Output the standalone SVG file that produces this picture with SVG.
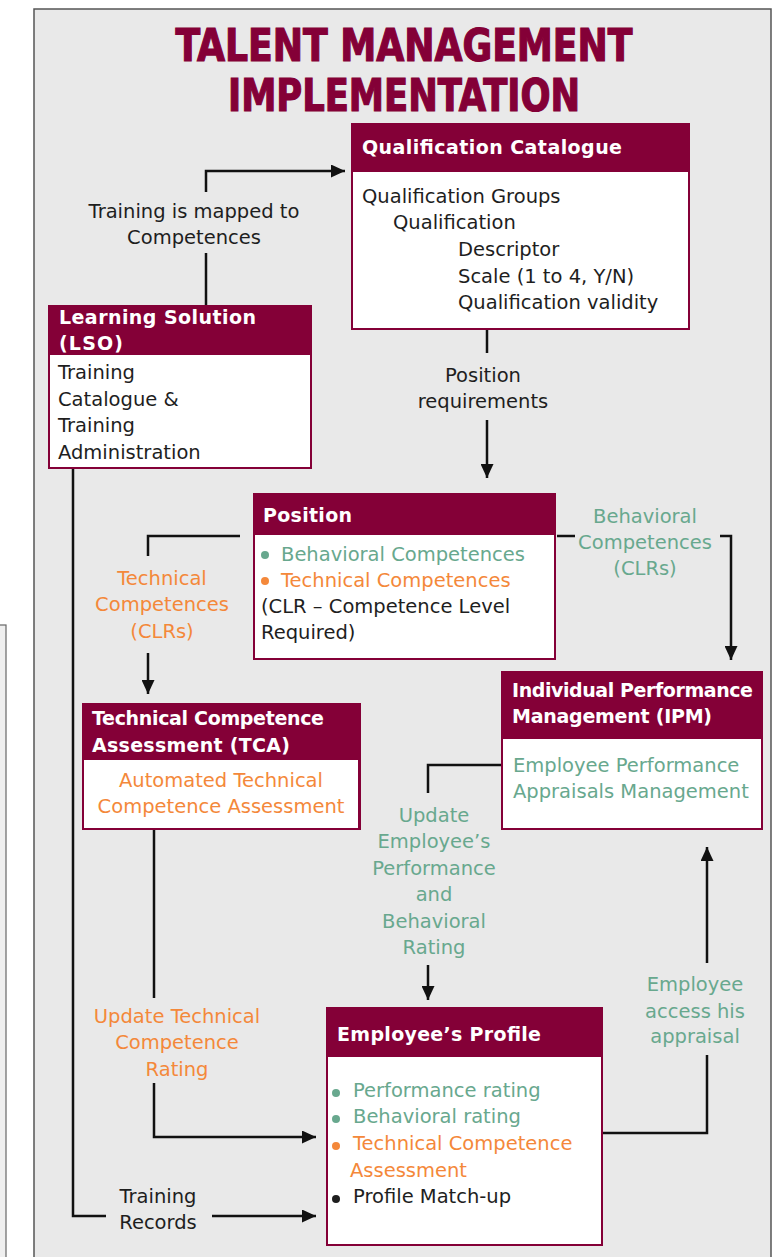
<svg xmlns="http://www.w3.org/2000/svg" width="782" height="1257" viewBox="0 0 782 1257">
<defs>
<marker id="arr" markerUnits="userSpaceOnUse" markerWidth="15" markerHeight="13" refX="14" refY="6.5" orient="auto">
<path d="M0,0 L14,6.5 L0,13 z" fill="#111"/>
</marker>
<style>
.box{fill:#840037}
.body{fill:#fff}
.hd{font-family:"DejaVu Sans",sans-serif;font-weight:bold;font-size:19px;fill:#fff}
.t{font-family:"DejaVu Sans",sans-serif;font-size:19.5px;fill:#1e1e1e}
.g{fill:#68a88e}
.o{fill:#f4883a}
.k{fill:#1e1e1e}
.c{text-anchor:middle}
.ln{fill:none;stroke:#111;stroke-width:2.5}
.title{font-family:"DejaVu Sans Condensed","DejaVu Sans",sans-serif;font-stretch:condensed;font-weight:bold;font-size:45px;fill:#840037;stroke:#840037;stroke-width:1.2;text-anchor:middle}
</style>
</defs>
<rect x="-2" y="625" width="8" height="640" fill="#efefef" stroke="#666" stroke-width="1.2"/>
<rect x="34" y="9" width="737" height="1262" fill="#e9e9e9" stroke="#555" stroke-width="1.5"/>
<text class="title" x="404" y="61" textLength="457" lengthAdjust="spacingAndGlyphs">TALENT MANAGEMENT</text>
<text class="title" x="404" y="111" textLength="352" lengthAdjust="spacingAndGlyphs">IMPLEMENTATION</text>

<g id="connectors">
<path class="ln" d="M206,305 V253"/>
<path class="ln" d="M206,192 V171 H345" marker-end="url(#arr)"/>
<text class="t c k" x="194" y="218">Training is mapped to</text>
<text class="t c k" x="194" y="244">Competences</text>

<path class="ln" d="M487,330 V353"/>
<path class="ln" d="M487,420 V478" marker-end="url(#arr)"/>
<text class="t c k" x="483" y="382">Position</text>
<text class="t c k" x="483" y="408">requirements</text>

<path class="ln" d="M557,536 H575"/>
<path class="ln" d="M720,536 H731 V660" marker-end="url(#arr)"/>
<text class="t c g" x="645" y="523">Behavioral</text>
<text class="t c g" x="645" y="549">Competences</text>
<text class="t c g" x="645" y="575">(CLRs)</text>

<path class="ln" d="M240,536 H148 V556"/>
<path class="ln" d="M148,653 V694" marker-end="url(#arr)"/>
<text class="t c o" x="162" y="585">Technical</text>
<text class="t c o" x="162" y="611">Competences</text>
<text class="t c o" x="162" y="638">(CLRs)</text>

<path class="ln" d="M501,765 H428 V793"/>
<path class="ln" d="M428,965 V1000" marker-end="url(#arr)"/>
<text class="t c g" x="434" y="822">Update</text>
<text class="t c g" x="434" y="848">Employee’s</text>
<text class="t c g" x="434" y="875">Performance</text>
<text class="t c g" x="434" y="901">and</text>
<text class="t c g" x="434" y="928">Behavioral</text>
<text class="t c g" x="434" y="954">Rating</text>

<path class="ln" d="M603,1133 H707 V1055"/>
<path class="ln" d="M707,963 V847" marker-end="url(#arr)"/>
<text class="t c g" x="695" y="991">Employee</text>
<text class="t c g" x="695" y="1018">access his</text>
<text class="t c g" x="695" y="1043">appraisal</text>

<path class="ln" d="M154,830 V998"/>
<path class="ln" d="M154,1083 V1137 H316" marker-end="url(#arr)"/>
<text class="t c o" x="177" y="1023">Update Technical</text>
<text class="t c o" x="177" y="1049">Competence</text>
<text class="t c o" x="177" y="1076">Rating</text>

<path class="ln" d="M73,469 V1216 H106"/>
<path class="ln" d="M212,1216 H316" marker-end="url(#arr)"/>
<text class="t c k" x="158" y="1203">Training</text>
<text class="t c k" x="158" y="1229">Records</text>
</g>

<g id="qualification-catalogue">
<rect class="box" x="351" y="123" width="339" height="207"/>
<rect class="body" x="353" y="172" width="335" height="156"/>
<text class="hd" x="362" y="154" textLength="260">Qualification Catalogue</text>
<text class="t" x="362" y="203">Qualification Groups</text>
<text class="t" x="393" y="229">Qualification</text>
<text class="t" x="458" y="256">Descriptor</text>
<text class="t" x="458" y="283">Scale (1 to 4, Y/N)</text>
<text class="t" x="458" y="309">Qualification validity</text>
</g>

<g id="learning-solution">
<rect class="box" x="48" y="305" width="264" height="164"/>
<rect class="body" x="50" y="355" width="260" height="112"/>
<text class="hd" x="59" y="324" textLength="197">Learning Solution</text>
<text class="hd" x="59" y="350" textLength="64">(LSO)</text>
<text class="t" x="58" y="379">Training</text>
<text class="t" x="58" y="406">Catalogue &amp;</text>
<text class="t" x="58" y="432">Training</text>
<text class="t" x="58" y="459">Administration</text>
</g>

<g id="position">
<rect class="box" x="253" y="493" width="303" height="167"/>
<rect class="body" x="255" y="535" width="299" height="123"/>
<text class="hd" x="263" y="522" textLength="89">Position</text>
<circle cx="265" cy="555" r="4" class="g"/>
<text class="t g" x="281" y="561">Behavioral Competences</text>
<circle cx="265" cy="581" r="4" class="o"/>
<text class="t o" x="281" y="587">Technical Competences</text>
<text class="t" x="261" y="613">(CLR – Competence Level</text>
<text class="t" x="261" y="639">Required)</text>
</g>

<g id="tca">
<rect class="box" x="82" y="703" width="279" height="127"/>
<rect class="body" x="84" y="760" width="274" height="68"/>
<text class="hd" x="92" y="725" textLength="232">Technical Competence</text>
<text class="hd" x="92" y="752" textLength="198">Assessment (TCA)</text>
<text class="t c o" x="221" y="787">Automated Technical</text>
<text class="t c o" x="221" y="813">Competence Assessment</text>
</g>

<g id="ipm">
<rect class="box" x="501" y="671" width="262" height="159"/>
<rect class="body" x="503" y="739" width="258" height="89"/>
<text class="hd" x="512" y="697" textLength="241">Individual Performance</text>
<text class="hd" x="512" y="723" textLength="200">Management (IPM)</text>
<text class="t g" x="513" y="772">Employee Performance</text>
<text class="t g" x="513" y="798">Appraisals Management</text>
</g>

<g id="employee-profile">
<rect class="box" x="326" y="1007" width="277" height="239"/>
<rect class="body" x="328" y="1057" width="273" height="187"/>
<text class="hd" x="337" y="1041" textLength="204">Employee’s Profile</text>
<circle cx="336" cy="1093" r="4" class="g"/>
<text class="t g" x="353" y="1097">Performance rating</text>
<circle cx="336" cy="1119" r="4" class="g"/>
<text class="t g" x="353" y="1123">Behavioral rating</text>
<circle cx="336" cy="1146" r="4" class="o"/>
<text class="t o" x="353" y="1150">Technical Competence</text>
<text class="t o" x="350" y="1177">Assessment</text>
<circle cx="336" cy="1199" r="4" class="k"/>
<text class="t k" x="353" y="1203">Profile Match-up</text>
</g>
</svg>
